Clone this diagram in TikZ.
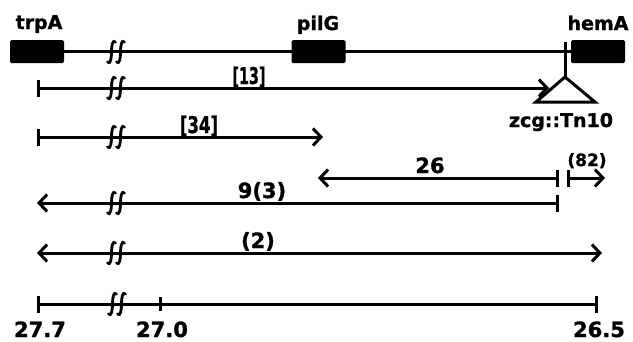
\documentclass[tikz,border=0pt]{standalone}
\usepackage{fontspec}
\setmainfont{DejaVu Sans}
\newfontfamily\lblfont{DejaVu Sans}[UprightFont={* Bold}, FakeBold=1.2]
\usetikzlibrary{arrows.meta}
\tikzset{
  myb/.tip={Straight Barb[length=8pt,width=17pt]},
  mybar/.tip={Bar[width=17pt]},
  brk/.pic={
    \foreach \dx in {-4.5,4.5}{
      \draw[line width=2.8pt, line cap=round]
        (\dx+4,-10) .. controls (\dx+1,-13) and (\dx,-6) .. (\dx,0)
        .. controls (\dx,6) and (\dx-1,13) .. (\dx-4,10);
    }
  }
}
\begin{document}
\begin{tikzpicture}[x=1pt,y=-1pt,
  seg/.style={line width=3pt},
  gene/.style={fill=black, rounded corners=1.5pt, inner sep=0pt,
               minimum width=54pt, minimum height=23pt},
  lbl/.style={font=\lblfont\fontsize{19}{19}\selectfont, anchor=base, inner sep=0pt},
  num/.style={font=\lblfont\fontsize{21}{21}\selectfont, anchor=base, inner sep=0pt},
  brack/.style={font=\lblfont\fontsize{23}{23}\selectfont, anchor=base, inner sep=0pt},
  small/.style={font=\lblfont\fontsize{17}{17}\selectfont, anchor=base, inner sep=0pt}
]
\useasboundingbox (0,0) rectangle (633,341);

% chromosome with the three genes
\node[gene] (trpA) at (37,51.5) {};
\node[gene] (pilG) at (318.5,51.5) {};
\node[gene] (hemA) at (598,51.5) {};
\draw[seg] (trpA.east) -- (hemA.west);
\pic at (116,52) {brk};
\node[lbl] (ltrpA) at (39,29) {trpA};
\node[lbl] (lpilG) at (318,30) {pilG};
\node[lbl] (lhemA) at (598,30) {hemA};

% transposon insertion
\coordinate (ins) at (565,42);
\coordinate (apex) at (565,77);
\coordinate (tl) at (536,102);
\coordinate (tr) at (595,102);
\draw[seg] (ins) -- (apex);
\draw[seg, line join=miter] (apex) -- (tl) -- (tr) -- cycle;
\node[lbl] (ltn) at (561,127) {zcg::Tn10};

% [13]
\coordinate (a1) at (37,88);
\coordinate (a2) at (549,88);
\draw[seg, arrows={mybar-myb}] (a1) -- (a2);
\pic at (116,88) {brk};
\node[brack] (l13) at (249,84) {\scalebox{0.62}[1]{[13]}};

% [34]
\coordinate (b1) at (37,137);
\coordinate (b2) at (323,137);
\draw[seg, arrows={mybar-myb}] (b1) -- (b2);
\pic at (116,137) {brk};
\node[brack] (l34) at (199,133) {\scalebox{0.72}[1]{[34]}};

% 26 and (82)
\coordinate (c1) at (318,178);
\coordinate (c2) at (559,178);
\draw[seg, arrows={myb-mybar}] (c1) -- (c2);
\node[num] (l26) at (430,173) {26};
\coordinate (d1) at (567,178);
\coordinate (d2) at (605,178);
\draw[seg, arrows={mybar-myb}] (d1) -- (d2);
\node[small] (l82) at (587,166) {(82)};

% 9(3)
\coordinate (e1) at (37,203);
\coordinate (e2) at (559,203);
\draw[seg, arrows={myb-mybar}] (e1) -- (e2);
\pic at (116,203) {brk};
\node[num] (l93) at (262,198) {9(3)};

% (2)
\coordinate (f1) at (37,253);
\coordinate (f2) at (602,253);
\draw[seg, arrows={myb-myb}] (f1) -- (f2);
\pic at (116,253) {brk};
\node[num] (l2) at (258,248) {(2)};

% map scale
\coordinate (s1) at (37,304);
\coordinate (s2) at (160,304);
\coordinate (s3) at (598,304);
\draw[seg, arrows={mybar-mybar}] (s1) -- (s3);
\draw[seg] ([yshift=-7pt]s2) -- ([yshift=7pt]s2);
\pic at (117,304) {brk};
\node[num] (n1) at (40,337) {27.7};
\node[num] (n2) at (162,337) {27.0};
\node[num] (n3) at (599,337) {26.5};
\end{tikzpicture}
\end{document}
